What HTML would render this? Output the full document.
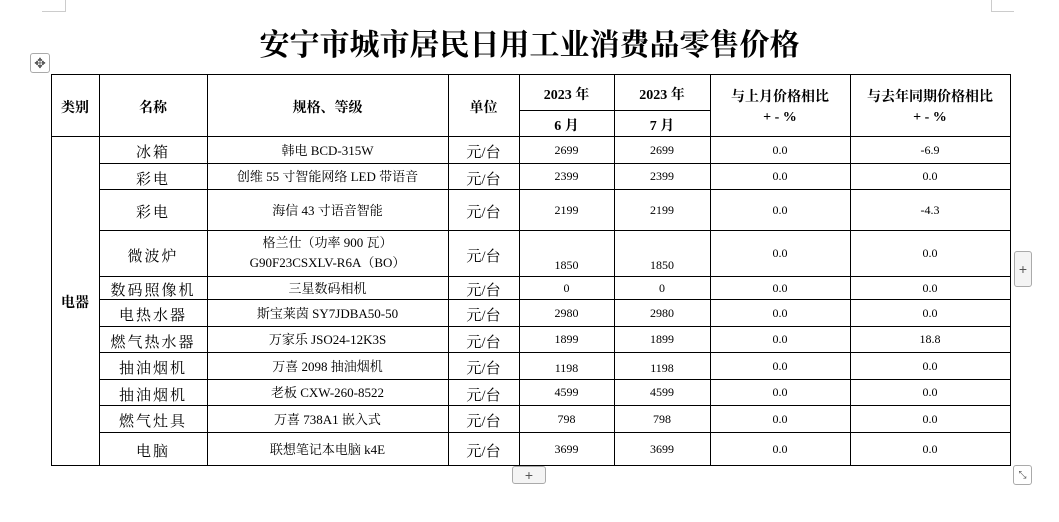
<!DOCTYPE html>
<html><head><meta charset="utf-8">
<style>
body{margin:0;width:1059px;height:522px;background:#fff;position:relative;overflow:hidden;font-family:"Liberation Serif","Noto Serif CJK SC",serif;color:#000}
.c{position:absolute;display:flex;align-items:center;justify-content:center;text-align:center;box-sizing:border-box;font-size:13px;line-height:20px}
.h{font-weight:bold;font-size:14px;padding-top:7px}
.ln{position:absolute;background:#000}
#title{position:absolute;left:0;width:1059px;top:20px;text-align:center;font-size:30px;font-weight:bold;font-family:"Liberation Serif","Noto Serif CJK SC",serif}
.btn{position:absolute;border:1px solid #aaa;border-radius:3px;background:#f4f4f4;color:#555;font-size:14px;display:flex;align-items:center;justify-content:center;box-sizing:border-box;font-family:"Liberation Sans",sans-serif}
</style></head><body>
<div class="btn" style="left:30px;top:53px;width:20px;height:20px;background:#fff">✥</div>
<div class="btn" style="left:1014px;top:251px;width:18px;height:36px">+</div>
<div class="btn" style="left:512px;top:466px;width:34px;height:18px">+</div>
<div class="btn" style="left:1013px;top:465px;width:19px;height:20px;background:#fff;font-size:10px">⤡</div>
<div style="position:absolute;left:42px;top:0;width:23px;height:11px;border-right:1px solid #ccc;border-bottom:1px solid #ccc"></div>
<div style="position:absolute;left:991px;top:0;width:22px;height:11px;border-left:1px solid #ccc;border-bottom:1px solid #ccc"></div>
<div id="title">安宁市城市居民日用工业消费品零售价格</div>
<div id="tbl"></div>
<script>
const X=[51,99,207,448,519,614,710,850,1010];
const Y=[136,163,189,230,276,299,326,352,379,405,432,465];
const names=["冰箱","彩电","彩电","微波炉","数码照像机","电热水器","燃气热水器","抽油烟机","抽油烟机","燃气灶具","电脑"];
const specs=["韩电 BCD-315W","创维 55 寸智能网络 LED 带语音","海信 43 寸语音智能","格兰仕（功率 900 瓦）<br>G90F23CSXLV-R6A（BO）","三星数码相机","斯宝莱茵 SY7JDBA50-50","万家乐 JSO24-12K3S","万喜 2098 抽油烟机","老板 CXW-260-8522","万喜 738A1 嵌入式","联想笔记本电脑 k4E"];
const june=["2699","2399","2199","1850","0","2980","1899","1198","4599","798","3699"];
const july=["2699","2399","2199","1850","0","2980","1899","1198","4599","798","3699"];
const mom=["0.0","0.0","0.0","0.0","0.0","0.0","0.0","0.0","0.0","0.0","0.0"];
const yoy=["-6.9","0.0","-4.3","0.0","0.0","0.0","18.8","0.0","0.0","0.0","0.0"];
const T=document.getElementById('tbl');
function cell(x1,y1,x2,y2,html,cls,name,extra){
  const d=document.createElement('div');
  d.className='c '+(cls||'');
  d.style.left=x1+'px';d.style.top=y1+'px';d.style.width=(x2-x1)+'px';d.style.height=(y2-y1)+'px';
  if(extra)d.style.cssText+=extra;
  d.innerHTML=html;
  
  
  T.appendChild(d);
}
function line(x,y,w,h){
  const d=document.createElement('div');d.className='ln';
  d.style.left=x+'px';d.style.top=y+'px';d.style.width=w+'px';d.style.height=h+'px';
  
  
  T.appendChild(d);
}
cell(X[0],74,X[1],136,'类别','h','header-category');
cell(X[1],74,X[2],136,'名称','h','header-name');
cell(X[2],74,X[3],136,'规格、等级','h','header-spec');
cell(X[3],74,X[4],136,'单位','h','header-unit');
cell(X[4],74,X[5],110,'2023 年','h','header-year-june');
cell(X[5],74,X[6],110,'2023 年','h','header-year-july');
cell(X[4],110,X[5],136,'6 月','h','header-june');
cell(X[5],110,X[6],136,'7 月','h','header-july');
cell(X[6],74,X[7],136,'与上月价格相比<br>+ - %','h','header-mom',"padding-top:6px");
cell(X[7],74,X[8],136,'与去年同期价格相比<br>+ - %','h','header-yoy',"padding-top:6px");
cell(X[0],Y[0],X[1],Y[Y.length-1],'电器','h','category-appliances');
for(let i=0;i<names.length;i++){
  const a=Y[i],b=Y[i+1];
  cell(X[1],a,X[2],b,names[i],'','item-name',"font-size:15px;letter-spacing:2px;padding-top:7px");
  cell(X[2],a,X[3],b,specs[i],'','item-spec',i===3?"":"padding-top:2px");
  cell(X[3],a,X[4],b,'元/台','','item-unit',"font-size:15px;padding-top:7px");
  const low=i===3?"align-items:flex-end;padding-bottom:1px":(i===7?"padding-top:4px":"");
  cell(X[4],a,X[5],b,june[i],'','price-june',"font-size:12px;"+low);
  cell(X[5],a,X[6],b,july[i],'','price-july',"font-size:12px;"+low);
  cell(X[6],a,X[7],b,mom[i],'','change-mom',"font-size:12px");
  cell(X[7],a,X[8],b,yoy[i],'','change-yoy',"font-size:12px");
}
line(X[0],74,X[8]-X[0]+1,1);
line(X[4],110,X[6]-X[4],1);
Y.forEach((y,i)=>{ if(i===0||i===Y.length-1) line(X[0],y,X[8]-X[0]+1,1); else line(X[1],y,X[8]-X[1]+1,1);});
X.forEach((x,i)=>{ line(x,74,1,Y[Y.length-1]-74+1); });
</script>
</body></html>
